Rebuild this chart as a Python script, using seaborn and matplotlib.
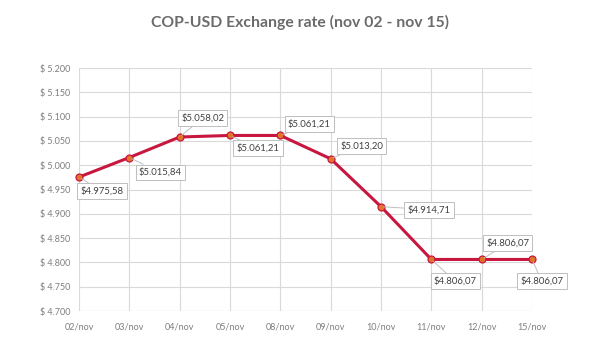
import matplotlib
matplotlib.use("Agg")
import matplotlib.pyplot as plt
import seaborn as sns
import pandas as pd

# Daily COP-USD exchange rate
dates = ["02/nov", "03/nov", "04/nov", "05/nov", "08/nov",
         "09/nov", "10/nov", "11/nov", "12/nov", "15/nov"]
rates = [4975.58, 5015.84, 5058.02, 5061.21, 5061.21,
         5013.20, 4914.71, 4806.07, 4806.07, 4806.07]
y_ticks = [4700, 4750, 4800, 4850, 4900, 4950, 5000, 5050, 5100, 5150, 5200]

# Label placement relative to each point (pixels, +x right, +y up)
label_offsets = [(23, -14), (31, -15), (23, 19), (28, -13), (29, 11),
                 (31, 13), (48, -3), (24, -22), (26, 16), (10, -22)]


def money_es(v, decimals):
    s = f"{v:,.{decimals}f}"
    return s.replace(",", "X").replace(".", ",").replace("X", ".")


sns.set_theme(style="white")
plt.rcParams["font.family"] = ["Lato", "DejaVu Sans"]

df = pd.DataFrame({"date": dates, "rate": rates})
df["pos"] = range(len(dates))

fig = plt.figure(figsize=(6.01, 3.38), dpi=100)
ax = fig.add_axes([79 / 601, 1 - 311 / 338, (532 - 79) / 601, (311 - 68) / 338])

sns.lineplot(data=df, x="pos", y="rate", ax=ax, color="#c8173f", linewidth=2.2,
             marker="o", markersize=5, markerfacecolor="#e0762a",
             markeredgecolor="#c8173f", markeredgewidth=0.9, zorder=3,
             clip_on=False)

ax.set_xlim(0, len(dates) - 1)
ax.set_ylim(y_ticks[0], y_ticks[-1])
ax.set_xticks(df["pos"])
ax.set_xticklabels(dates)
ax.set_yticks(y_ticks)
ax.set_yticklabels([f"$ {money_es(t, 0)}" for t in y_ticks])
ax.tick_params(axis="both", length=0, labelsize=6.5, colors="#7f7f7f")
ax.tick_params(axis="x", pad=8)
ax.tick_params(axis="y", pad=6)
ax.set_xlabel("")
ax.set_ylabel("")

ax.grid(True, color="#d9d9d9", linewidth=0.8)
for side in ["top", "right", "left", "bottom"]:
    ax.spines[side].set_visible(False)
ax.axhline(y_ticks[0], color="#d9d9d9", linewidth=0.8, zorder=1)

for i, (v, off) in enumerate(zip(rates, label_offsets)):
    ax.annotate(f"${money_es(v, 2)}", xy=(i, v), xytext=off,
                textcoords="offset pixels", ha="center", va="center",
                fontsize=6.8, color="#404040",
                bbox=dict(boxstyle="square,pad=0.35", fc="white",
                          ec="#bfbfbf", lw=0.7),
                arrowprops=dict(arrowstyle="-", color="#bfbfbf", lw=0.7,
                                shrinkA=0, shrinkB=2),
                zorder=4, annotation_clip=False)

fig.text(300 / 601, 1 - 22 / 338, "COP-USD Exchange rate (nov 02 - nov 15)",
         ha="center", va="center", fontsize=11.3, fontweight="bold",
         color="#6b6b6b")

fig.savefig("out.png", dpi=100, facecolor="white")
